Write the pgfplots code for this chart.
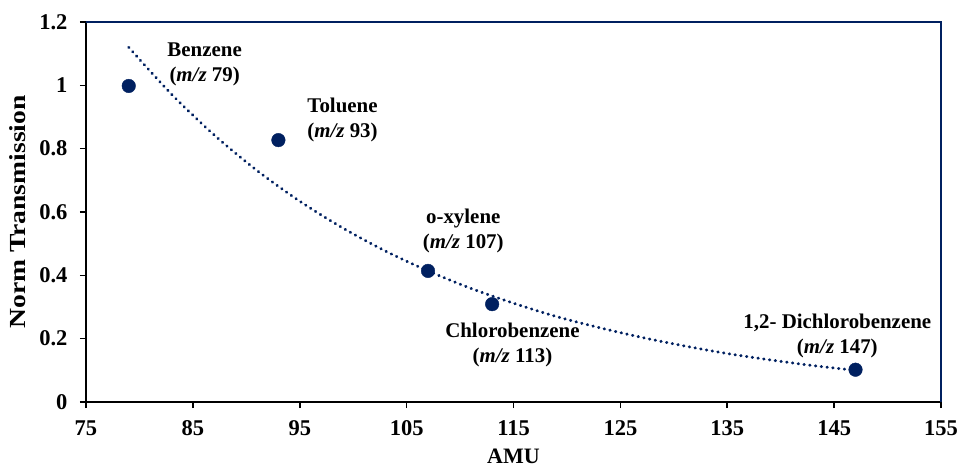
\documentclass[border=0pt]{standalone}
\usepackage{graphicx}
\usepackage{pgfplots}
\pgfplotsset{compat=1.18}
\usepackage{fontspec}
\setmainfont{Liberation Serif}
\definecolor{navy}{RGB}{0,32,96}
\begin{document}
\begin{tikzpicture}[x=1pt,y=1pt]
\begin{axis}[
  scale only axis,
  width=855pt, height=380pt,
  xmin=75, xmax=155, ymin=0, ymax=1.2,
  xtick={75,85,...,155},
  ytick={0,0.2,0.4,0.6,0.8,1,1.2},
  axis x line*=bottom, axis y line*=left,
  axis line style={black, line width=1.8pt, -},
  tick align=outside,
  major tick length=6pt,
  tick style={black, line width=1.6pt},
  tick label style={font=\fontsize{22.5}{24}\selectfont\bfseries},
  /pgf/number format/assume math mode=true,
  xticklabel style={anchor=center, yshift=-20pt},
  yticklabel style={anchor=east, xshift=-9pt},
  xlabel={AMU},
  ylabel={\scalebox{1.2}[1]{Norm Transmission}},
  xlabel style={font=\fontsize{22}{24}\selectfont\bfseries, at={(axis description cs:0.5,0)}, anchor=center, yshift=-54pt},
  ylabel style={font=\fontsize{23}{24}\selectfont\bfseries, at={(axis description cs:0,0.5)}, anchor=center, yshift=68pt},
  clip=false,
]
\coordinate (SW) at (rel axis cs:0,0);
\coordinate (NE) at (rel axis cs:1,1);
\draw[navy, line width=2.2pt] (rel axis cs:0,1) -- (rel axis cs:1,1) -- (rel axis cs:1,0);
% exponential trendline
\addplot[navy, line width=3pt, line cap=round, dash pattern=on 0.4pt off 5.4pt, smooth] coordinates {
(79,1.120) (83,0.972) (87,0.843) (91,0.731) (95,0.634) (99,0.550) (103,0.477)
(107,0.414) (111,0.359) (115,0.312) (119,0.270) (123,0.235) (127,0.204)
(131,0.177) (135,0.153) (139,0.133) (143,0.115) (147,0.100)};
\addplot[only marks, mark=*, mark size=6.8pt, navy, mark options={fill=navy, draw=navy}] coordinates {
(79,0.998) (93,0.827) (107,0.414) (113,0.309) (147,0.102)};
\begin{scope}[every node/.style={font=\fontsize{20.9}{25}\selectfont\bfseries, align=center}]
\node at (axis cs:86.1,1.067) {Benzene\\(\textit{m/z} 79)};
\node at (axis cs:99.0,0.89) {Toluene\\(\textit{m/z} 93)};
\node at (axis cs:110.3,0.54) {o-xylene\\(\textit{m/z} 107)};
\node at (axis cs:114.9,0.18) {Chlorobenzene\\(\textit{m/z} 113)};
\node at (axis cs:145.3,0.21) {1,2- Dichlorobenzene\\(\textit{m/z} 147)};
\end{scope}
\end{axis}
\pgfresetboundingbox
\path ([shift={(-86pt,-66pt)}]SW) rectangle ([shift={(22pt,22pt)}]NE);
\end{tikzpicture}
\end{document}
